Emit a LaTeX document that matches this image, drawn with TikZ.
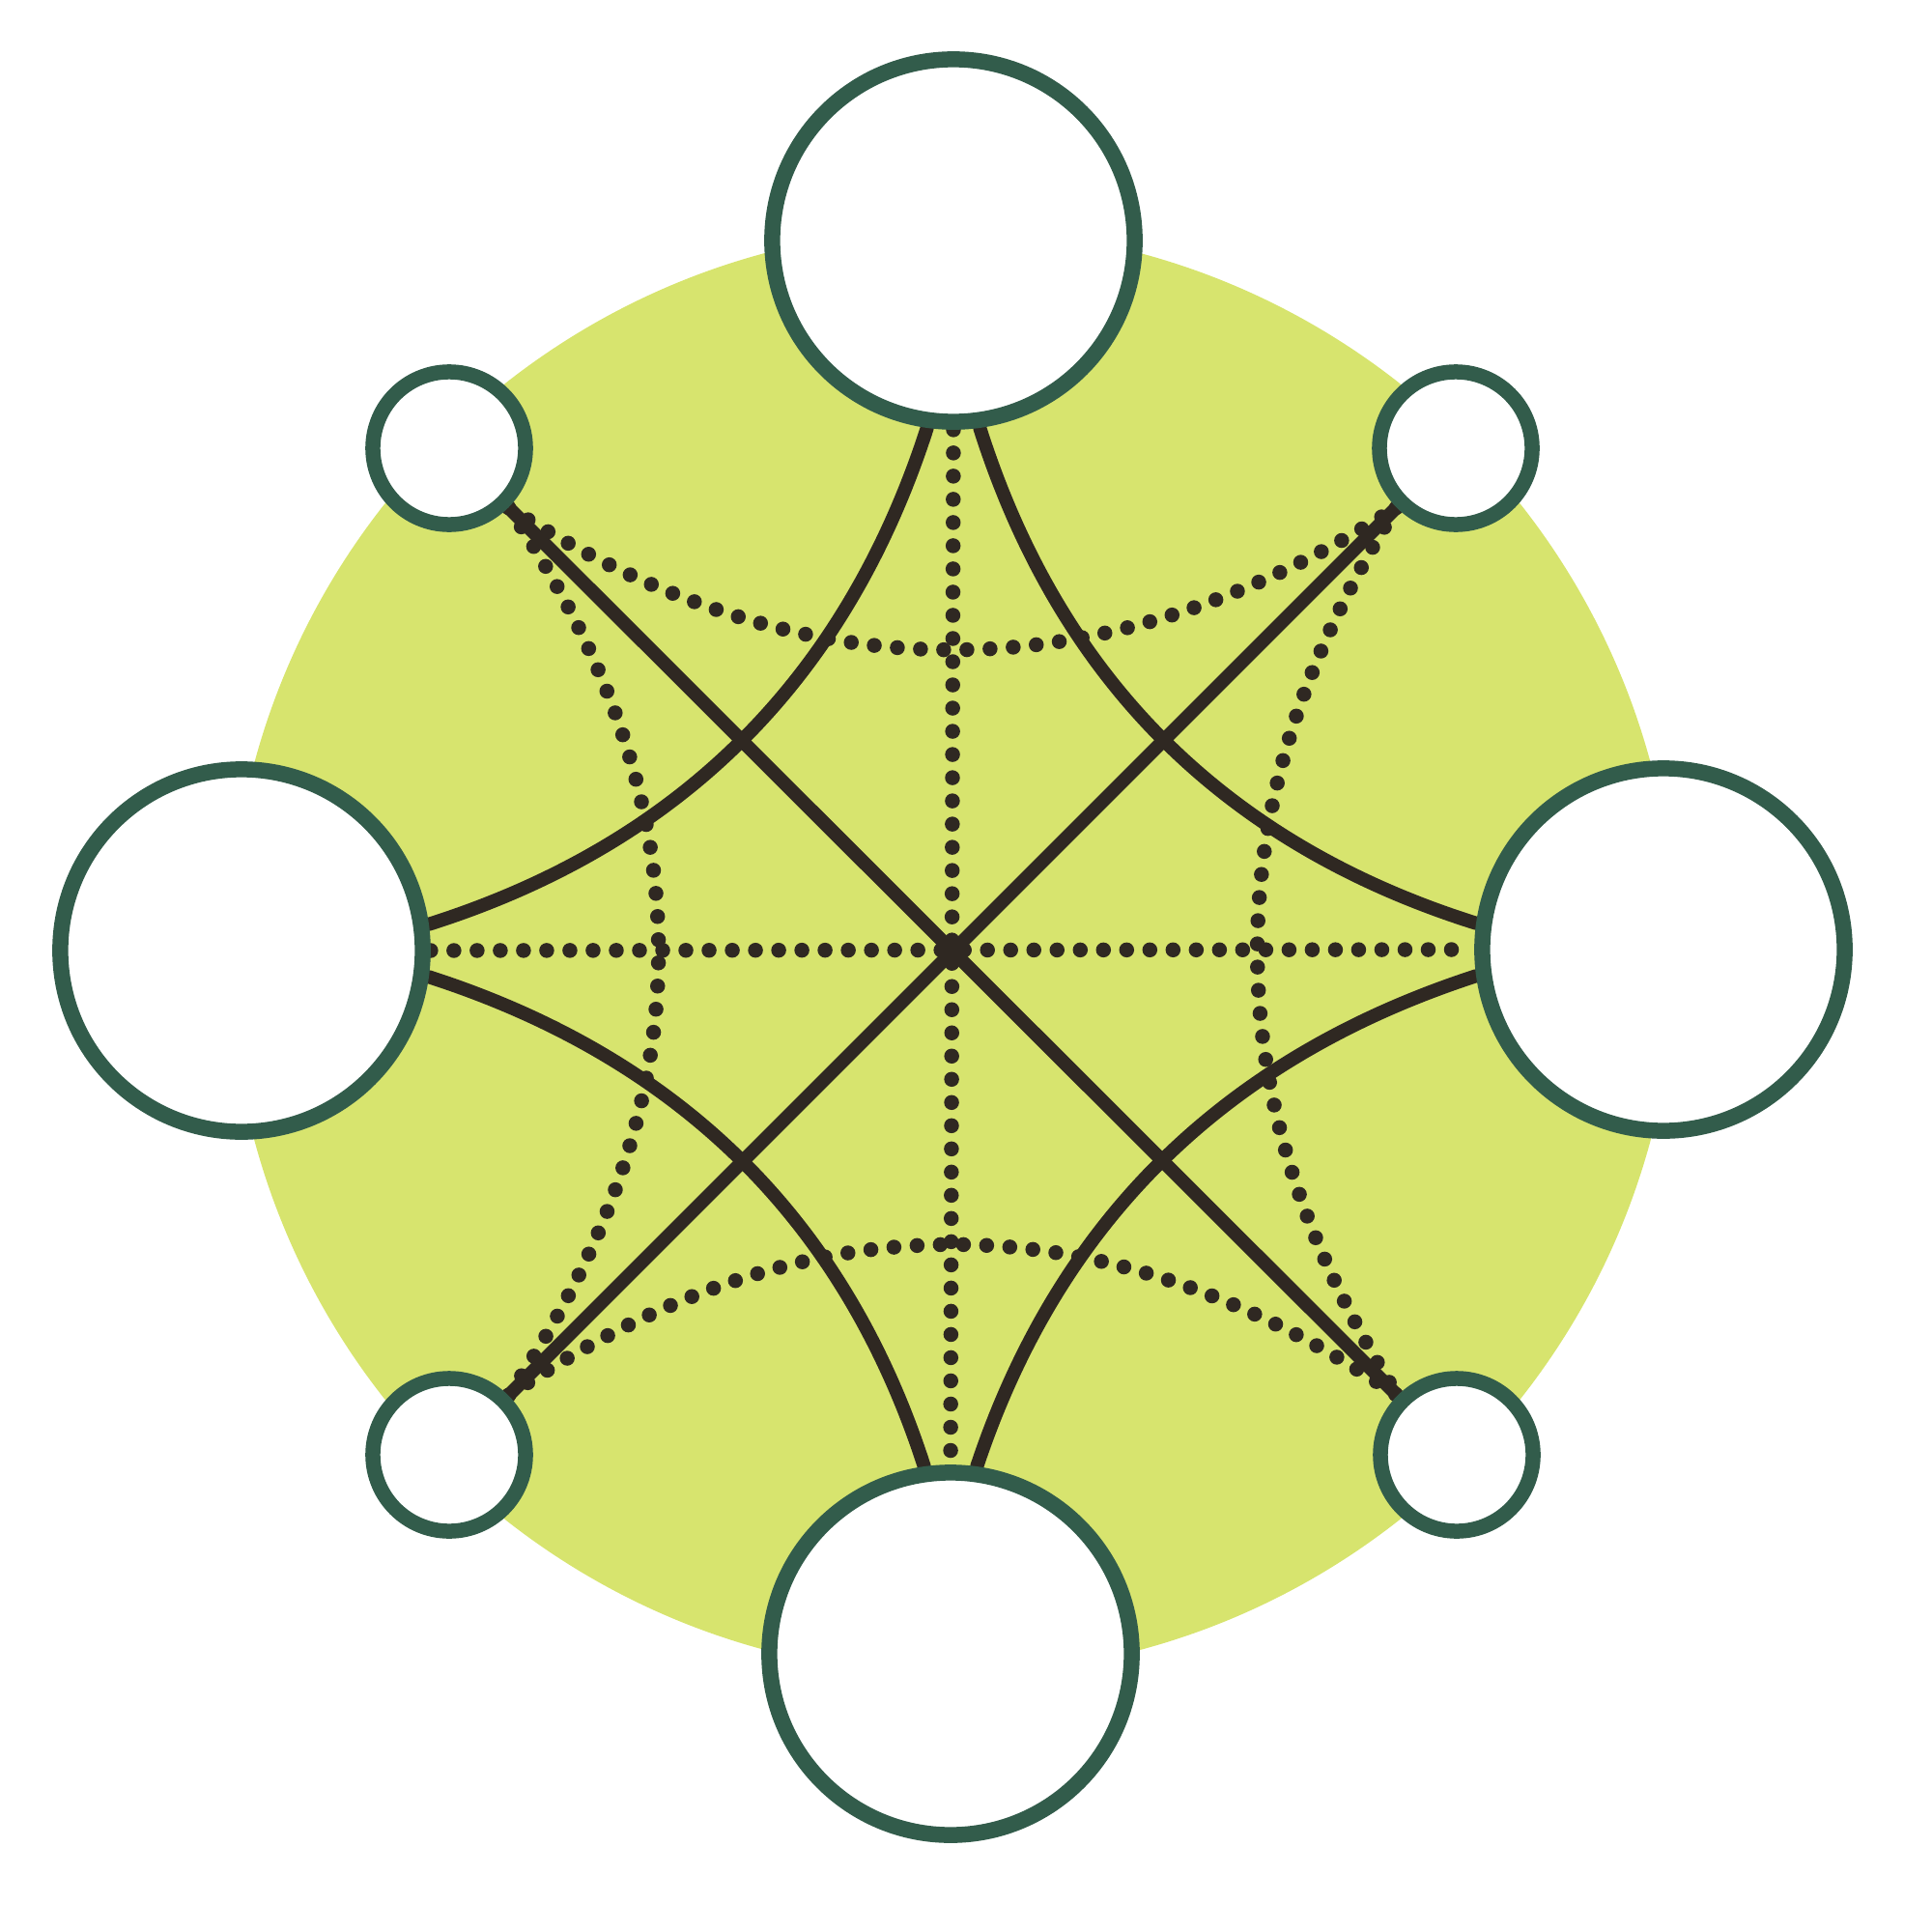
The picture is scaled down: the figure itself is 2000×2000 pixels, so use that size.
\documentclass[tikz,border=0pt]{standalone}
\usetikzlibrary{calc}
\definecolor{disk}{RGB}{215,228,110}
\definecolor{ring}{RGB}{50,92,75}
\definecolor{ink}{RGB}{47,40,34}
\pgfdeclarelayer{bg}
\pgfdeclarelayer{links}
\pgfsetlayers{bg,links,main}
\begin{document}
\begin{tikzpicture}[x=0.01cm,y=-0.01cm,
  bignode/.style={circle,draw=ring,fill=white,line width=0.165cm,minimum size=3.75cm,inner sep=0pt},
  smallnode/.style={circle,draw=ring,fill=white,line width=0.155cm,minimum size=1.58cm,inner sep=0pt},
  solidlink/.style={draw=ink,line width=0.14cm,line cap=round},
  dotlink/.style={draw=ink,line width=0.155cm,line cap=round,dash pattern=on 0pt off 0.24cm}]
\useasboundingbox (0,0) rectangle (2000,2000);
\coordinate (O) at (986,985);
\begin{pgfonlayer}{bg}
\fill[disk] (O) circle[radius=7.48cm];
\end{pgfonlayer}
% circles
\node[bignode] (T) at (987,249) {};
\node[bignode] (B) at (984,1712) {};
\node[bignode] (L) at (250,984) {};
\node[bignode] (R) at (1722,983) {};
\node[smallnode] (TL) at (465,464) {};
\node[smallnode] (TR) at (1507,464) {};
\node[smallnode] (BL) at (465,1506) {};
\node[smallnode] (BR) at (1508,1506) {};
% quadratic control points
\coordinate (qTL) at (834,833);
\coordinate (qTR) at (1138,833);
\coordinate (qBL) at (834,1137);
\coordinate (qBR) at (1138,1137);
\coordinate (dT) at (986,820);
\coordinate (dB) at (986,1132);
\coordinate (dL) at (837,985);
\coordinate (dR) at (1157,985);
\begin{pgfonlayer}{links}
% straight solid diagonals
\draw[solidlink] (TL.-45) -- (BR.135);
\draw[solidlink] (TR.-135) -- (BL.45);
% solid curves
\draw[solidlink] (T.262) .. controls ($(T.262)!2/3!(qTL)$) and ($(L.8)!2/3!(qTL)$) .. (L.8);
\draw[solidlink] (T.278) .. controls ($(T.278)!2/3!(qTR)$) and ($(R.172)!2/3!(qTR)$) .. (R.172);
\draw[solidlink] (L.-8) .. controls ($(L.-8)!2/3!(qBL)$) and ($(B.98)!2/3!(qBL)$) .. (B.98);
\draw[solidlink] (R.188) .. controls ($(R.188)!2/3!(qBR)$) and ($(B.82)!2/3!(qBR)$) .. (B.82);
% dotted straight
\draw[dotlink] (T.south) -- (B.north);
\draw[dotlink] (L.east) -- (R.west);
% dotted curves
\draw[dotlink] (TL.-45) .. controls ($(TL.-45)!2/3!(dT)$) and ($(TR.-135)!2/3!(dT)$) .. (TR.-135);
\draw[dotlink] (BL.45) .. controls ($(BL.45)!2/3!(dB)$) and ($(BR.135)!2/3!(dB)$) .. (BR.135);
\draw[dotlink] (TL.-45) .. controls ($(TL.-45)!2/3!(dL)$) and ($(BL.45)!2/3!(dL)$) .. (BL.45);
\draw[dotlink] (TR.-135) .. controls ($(TR.-135)!2/3!(dR)$) and ($(BR.135)!2/3!(dR)$) .. (BR.135);
\end{pgfonlayer}
\end{tikzpicture}
\end{document}
